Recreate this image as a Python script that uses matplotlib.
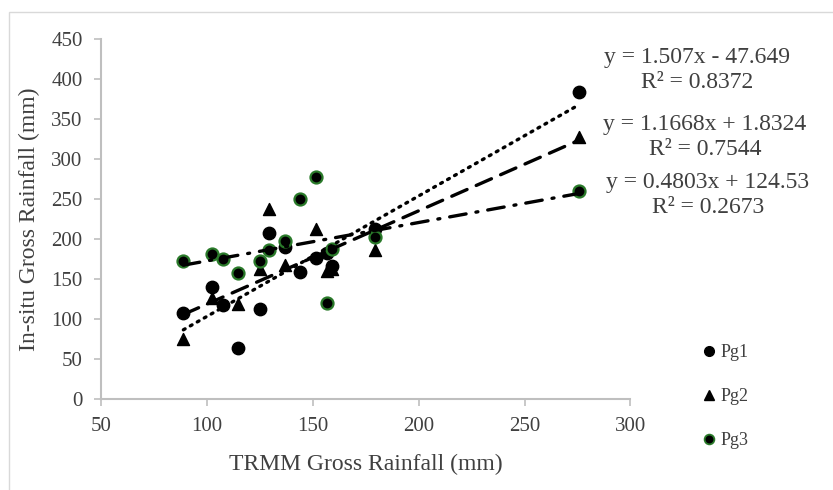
import numpy as np
import matplotlib
matplotlib.use("Agg")
import matplotlib.pyplot as plt
from matplotlib.patches import Rectangle
from matplotlib.lines import Line2D

# TRMM values (shared x columns)
trmm = [89, 102.5, 107.5, 115, 125, 129.5, 137, 144, 151.7, 157, 159, 179.5, 275.5]

# in-situ gross rainfall per gauge
pg1_x = trmm
pg1_y = [107, 140, 117, 64, 113, 208, 190, 159, 176, 182, 166, 213, 384]

pg2_x = [89, 102.5, 115, 125, 129.5, 137, 151.7, 157, 159, 179.5, 275.5]
pg2_y = [75, 126, 119, 163, 237, 168, 213, 160, 163, 186, 328]

pg3_x = trmm
pg3_y = [172, 181, 175, 158, 173, 186, 197, 250, 277, 120, 188, 203, 260]

# trendline coefficients as shown on the chart
slopes = [1.507, 1.1668, 0.4803]
intercepts = [-47.649, 1.8324, 124.53]
eq_labels = ["y = 1.507x - 47.649\nR² = 0.8372",
             "y = 1.1668x + 1.8324\nR² = 0.7544",
             "y = 0.4803x + 124.53\nR² = 0.2673"]
names = ["Pg1", "Pg2", "Pg3"]

plt.rcParams['font.family'] = ['Liberation Serif', 'DejaVu Serif']
txt = '#404040'
grey = '#bfbfbf'
green = '#2a7a2a'

fig = plt.figure(figsize=(8.33, 4.9), dpi=100)
ax = fig.add_axes([0.1209, 0.1857, 0.636, 0.7347])

# outer frame
fig.patches.append(Rectangle((9/833, -0.1), 1.2, 1 - 12/490 + 0.1,
                             transform=fig.transFigure, fill=False,
                             edgecolor='#d9d9d9', linewidth=1.0))

ax.scatter(pg1_x, pg1_y, s=80, marker='o', color='black', zorder=3)
ax.scatter(pg2_x, pg2_y, s=75, marker='^', color='black', zorder=3)
ax.scatter(pg3_x, pg3_y, s=75, marker='o', facecolor='black',
           edgecolor=green, linewidth=1.6, zorder=3)

series_x = [pg1_x, pg2_x, pg3_x]
styles = [(0, (0.6, 1.8)), (0, (5, 3)), (0, (5, 3, 0.6, 3))]
for xs, m, b, ls in zip(series_x, slopes, intercepts, styles):
    xx = np.array([min(xs), max(xs)])
    ax.plot(xx, m * xx + b, color='black', linewidth=2.4, linestyle=ls,
            dash_capstyle='round', zorder=4)

ax.set_xlim(50, 300)
ax.set_ylim(0, 450)
ax.set_xticks(range(50, 301, 50))
ax.set_yticks(range(0, 451, 50))
for s in ['top', 'right']:
    ax.spines[s].set_visible(False)
for s in ['left', 'bottom']:
    ax.spines[s].set_color(grey)
    ax.spines[s].set_linewidth(1.5)
ax.tick_params(colors=grey, labelcolor=txt, labelsize=15, length=5,
               width=1.2, pad=8)

ax.set_xlabel("TRMM Gross Rainfall (mm)", fontsize=17, color=txt, labelpad=13)
ax.set_ylabel("In-situ Gross Rainfall (mm)", fontsize=17, color=txt, labelpad=8)

eq_pos = [(697, 70), (705, 137), (708, 195)]
for (px, py), lab in zip(eq_pos, eq_labels):
    fig.text(px / 833, 1 - py / 490, lab, ha='center', va='center',
             multialignment='center', fontsize=17, color=txt, linespacing=1.25)

handles = [
    Line2D([], [], linestyle='none', marker='o', markersize=7, color='black'),
    Line2D([], [], linestyle='none', marker='^', markersize=7, color='black'),
    Line2D([], [], linestyle='none', marker='o', markersize=7,
           markerfacecolor='black', markeredgecolor=green, markeredgewidth=1.3),
]
leg = fig.legend(handles, names, loc='upper left',
                 bbox_to_anchor=(695 / 833, 1 - 335 / 490), frameon=False,
                 fontsize=13, handlelength=0.6, handletextpad=0.3,
                 labelspacing=1.5, borderpad=0)
for t in leg.get_texts():
    t.set_color(txt)

fig.savefig("out.png", dpi=100)
